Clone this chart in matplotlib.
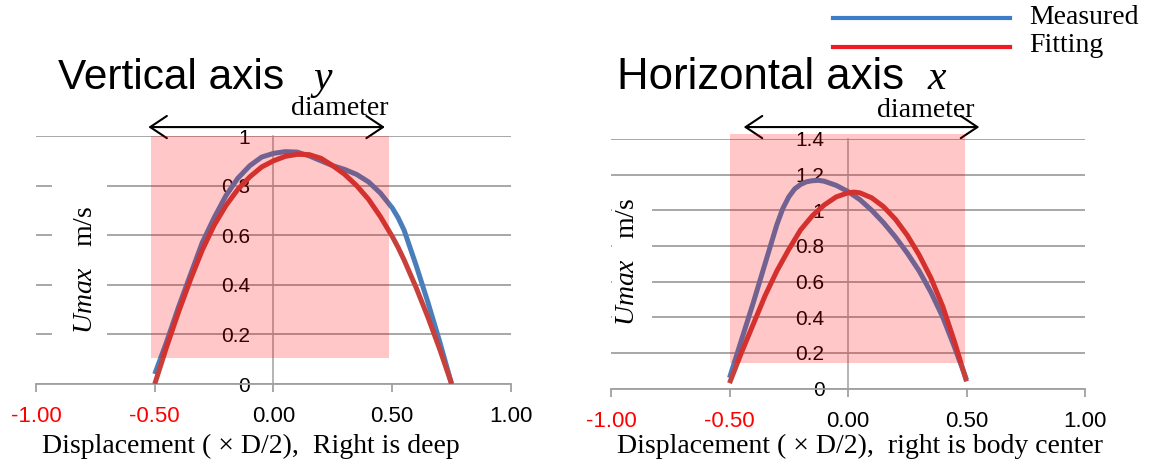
import numpy as np
import matplotlib
matplotlib.use("Agg")
import matplotlib.pyplot as plt
from matplotlib.patches import Rectangle
from matplotlib.lines import Line2D

plt.rcParams['axes.unicode_minus'] = False
plt.rcParams['mathtext.fontset'] = 'custom'
plt.rcParams['mathtext.it'] = 'Liberation Serif:italic'
plt.rcParams['mathtext.rm'] = 'Liberation Serif'

# ---- data ----
xv = [-0.50, -0.45, -0.40, -0.35, -0.30, -0.25, -0.20, -0.15, -0.10, -0.05,
      0.00, 0.05, 0.10, 0.15, 0.20, 0.25, 0.30, 0.35, 0.40, 0.45,
      0.50, 0.525, 0.55, 0.60, 0.65, 0.70, 0.75]
vert_measured = [0.04, 0.17, 0.31, 0.44, 0.57, 0.67, 0.76, 0.83, 0.88, 0.915,
                 0.93, 0.937, 0.935, 0.92, 0.90, 0.88, 0.865, 0.845, 0.815, 0.77,
                 0.71, 0.67, 0.62, 0.48, 0.33, 0.17, 0.0]
vert_fitting = [0.0, 0.15, 0.29, 0.42, 0.54, 0.64, 0.72, 0.785, 0.835, 0.875,
                0.90, 0.918, 0.926, 0.925, 0.91, 0.88, 0.845, 0.80, 0.745, 0.675,
                0.595, 0.55, 0.50, 0.39, 0.27, 0.14, 0.0]

xh_measured = [-0.50, -0.45, -0.40, -0.35, -0.30, -0.275, -0.25, -0.225, -0.20, -0.175,
               -0.15, -0.125, -0.10, -0.05, 0.00, 0.05, 0.10, 0.15, 0.20, 0.25,
               0.30, 0.35, 0.40, 0.45, 0.50]
horiz_measured = [0.06, 0.27, 0.48, 0.70, 0.92, 1.01, 1.075, 1.12, 1.145, 1.16,
                  1.166, 1.168, 1.163, 1.14, 1.105, 1.06, 1.0, 0.93, 0.85, 0.76,
                  0.66, 0.54, 0.40, 0.23, 0.05]
xh_fitting = [-0.50, -0.45, -0.40, -0.35, -0.30, -0.25, -0.20, -0.15, -0.10, -0.05,
              0.00, 0.025, 0.05, 0.10, 0.15, 0.20, 0.25, 0.30, 0.35, 0.40, 0.45, 0.50]
horiz_fitting = [0.03, 0.20, 0.36, 0.52, 0.66, 0.78, 0.89, 0.97, 1.03, 1.075,
                 1.098, 1.102, 1.098, 1.07, 1.02, 0.95, 0.86, 0.75, 0.62, 0.46, 0.26, 0.04]

xticks = [-1.0, -0.5, 0.0, 0.5, 1.0]
vert_yticks = [0, 0.2, 0.4, 0.6, 0.8, 1.0]
horiz_yticks = [0, 0.2, 0.4, 0.6, 0.8, 1.0, 1.2, 1.4]

W, H = 1150, 463
fig = plt.figure(figsize=(W / 100, H / 100), dpi=100)


def fx(x):
    return x / W


def fy(y):
    return 1 - y / H


BLUE = '#4a7ebb'
RED = '#c8403c'
GRID = '#a0a0a0'


def make_axes(rect, xm, meas, xf, fit, yticks, ymax, band, arrow, dia):
    ax = fig.add_axes(rect)
    ax.set_xlim(-1, 1)
    ax.set_ylim(0, ymax)
    for s in ['top', 'right']:
        ax.spines[s].set_visible(False)
    ax.spines['left'].set_position(('data', 0))
    ax.spines['left'].set_color(GRID)
    ax.spines['left'].set_linewidth(1.1)
    ax.spines['bottom'].set_color(GRID)
    ax.spines['bottom'].set_linewidth(1.3)
    ax.set_yticks(yticks)
    ax.set_yticklabels(['%g' % v for v in yticks])
    ax.set_xticks(xticks)
    ax.set_xticklabels(['%.2f' % v for v in xticks])
    ax.tick_params(axis='y', length=0, pad=17, labelsize=15)
    ax.tick_params(axis='x', length=6, width=1.3, color=GRID, pad=10, labelsize=16)
    for lab in ax.get_yticklabels() + ax.get_xticklabels():
        lab.set_fontfamily('Liberation Sans')
    for lab in ax.get_xticklabels()[:2]:
        lab.set_color('#ff0000')
    ax.yaxis.grid(True, color=GRID, lw=1.3)
    ax.set_axisbelow(True)
    ax.plot(xm, meas, color=BLUE, lw=3.6, solid_capstyle='butt', solid_joinstyle='round', zorder=3)
    ax.plot(xf, fit, color=RED, lw=3.6, solid_capstyle='butt', solid_joinstyle='round', zorder=4)
    x0, y0, x1, y1 = band
    ax.add_patch(Rectangle((x0, y0), x1 - x0, y1 - y0, facecolor=(1, 0, 0),
                           alpha=0.22, lw=0, zorder=5, clip_on=False))
    ax.annotate('', xy=(arrow[1], arrow[2]), xytext=(arrow[0], arrow[2]),
                arrowprops=dict(arrowstyle='<->,head_length=0.6,head_width=0.4',
                                lw=1.5, color='black', mutation_scale=20,
                                shrinkA=0, shrinkB=0),
                annotation_clip=False)
    ax.text(dia[0], dia[1], 'diameter', ha='center', va='center',
            fontsize=20, family='Liberation Serif', clip_on=False)
    return ax


ax1 = make_axes([fx(36), fy(384), fx(511) - fx(36), fy(136) - fy(384)],
                xv, vert_measured, xv, vert_fitting, vert_yticks, 1.0,
                (-0.515, 0.104, 0.487, 1.0), (-0.527, 0.469, 1.036), (0.28, 1.11))
ax2 = make_axes([fx(611), fy(388.5), fx(1085) - fx(611), fy(139) - fy(388.5)],
                xh_measured, horiz_measured, xh_fitting, horiz_fitting, horiz_yticks, 1.4,
                (-0.50, 0.145, 0.495, 1.428), (-0.44, 0.554, 1.467), (0.33, 1.56))

# white boxes behind the y labels
fig.patches.append(Rectangle((fx(52), fy(345)), fx(107) - fx(52), fy(185) - fy(345),
                             transform=fig.transFigure, facecolor='white', lw=0, zorder=1))
fig.patches.append(Rectangle((fx(612), fy(337)), fx(652) - fx(612), fy(185) - fy(337),
                             transform=fig.transFigure, facecolor='white', lw=0, zorder=1))
ylab = '$\\mathit{Umax}$   m/s'
fig.text(fx(85), fy(270), ylab, rotation=90, ha='center', va='center',
         fontsize=20, family='Liberation Serif', zorder=3)
fig.text(fx(627), fy(262), ylab, rotation=90, ha='center', va='center',
         fontsize=20, family='Liberation Serif', zorder=3)

# titles
fig.text(fx(58), fy(89), 'Vertical axis', fontsize=30.5, family='Liberation Sans',
         va='baseline', ha='left')
fig.text(fx(313), fy(89), 'y', fontsize=30, family='Liberation Serif', style='italic',
         va='baseline', ha='left')
fig.text(fx(617), fy(89), 'Horizontal axis', fontsize=31.5, family='Liberation Sans',
         va='baseline', ha='left')
fig.text(fx(928), fy(89), 'x', fontsize=30, family='Liberation Serif', style='italic',
         va='baseline', ha='left')

# x labels
fig.text(fx(42), fy(453), 'Displacement ( \u00d7 D/2),  Right is deep', fontsize=20,
         family='Liberation Serif', va='baseline', ha='left')
fig.text(fx(617), fy(453), 'Displacement ( \u00d7 D/2),  right is body center', fontsize=20,
         family='Liberation Serif', va='baseline', ha='left')

# legend
fig.add_artist(Line2D([fx(833), fx(1010)], [fy(18), fy(18)], color='#3d7cc9', lw=3))
fig.add_artist(Line2D([fx(833), fx(1010)], [fy(47), fy(47)], color='#ed1c24', lw=3))
fig.text(fx(1029), fy(18), 'Measured', fontsize=20, family='Liberation Serif',
         va='center', ha='left')
fig.text(fx(1029), fy(46), 'Fitting', fontsize=20, family='Liberation Serif',
         va='center', ha='left')

fig.savefig('out.png', dpi=100)
